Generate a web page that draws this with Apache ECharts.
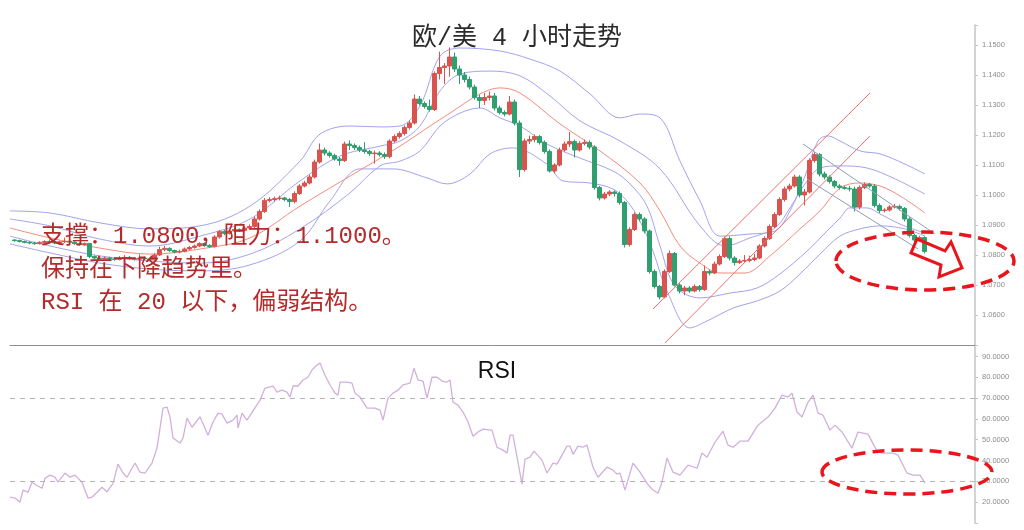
<!DOCTYPE html>
<html><head><meta charset="utf-8">
<script src="https://cdn.jsdelivr.net/npm/echarts@6/dist/echarts.min.js"></script>
<style>html,body{margin:0;padding:0;background:#fff}#c{width:1024px;height:530px}</style>
</head><body><div id="c"></div>
<script>
// ---- data: 4h candles [open, close, low, high] ----
const candles = [
[1.0850,1.0848,1.0844,1.0853],[1.0848,1.0845,1.0842,1.0851],[1.0845,1.0842,1.0839,1.0848],[1.0842,1.0840,1.0836,1.0846],
[1.0840,1.0838,1.0834,1.0844],[1.0838,1.0842,1.0835,1.0846],[1.0842,1.0845,1.0839,1.0849],[1.0845,1.0843,1.0839,1.0852],
[1.0843,1.0840,1.0836,1.0846],[1.0840,1.0844,1.0837,1.0848],[1.0844,1.0846,1.0840,1.0858],[1.0846,1.0843,1.0839,1.0849],
[1.0843,1.0838,1.0834,1.0846],[1.0838,1.0835,1.0831,1.0842],[1.0835,1.0838,1.0832,1.0842],[1.0838,1.0795,1.0790,1.0841],
[1.0795,1.0790,1.0786,1.0799],[1.0790,1.0788,1.0784,1.0794],[1.0788,1.0790,1.0785,1.0795],[1.0790,1.0787,1.0783,1.0794],
[1.0787,1.0785,1.0781,1.0792],[1.0785,1.0789,1.0782,1.0796],[1.0789,1.0792,1.0785,1.0800],[1.0792,1.0788,1.0784,1.0797],
[1.0788,1.0786,1.0782,1.0793],[1.0786,1.0790,1.0783,1.0802],[1.0790,1.0787,1.0783,1.0795],[1.0787,1.0784,1.0779,1.0791],
[1.0784,1.0800,1.0781,1.0806],[1.0800,1.0818,1.0797,1.0828],[1.0818,1.0822,1.0812,1.0830],[1.0822,1.0815,1.0810,1.0826],
[1.0815,1.0810,1.0805,1.0818],[1.0810,1.0812,1.0806,1.0818],[1.0812,1.0820,1.0809,1.0825],[1.0820,1.0825,1.0816,1.0830],
[1.0825,1.0830,1.0821,1.0835],[1.0830,1.0838,1.0826,1.0843],[1.0838,1.0832,1.0827,1.0842],[1.0832,1.0828,1.0823,1.0836],
[1.0828,1.0860,1.0825,1.0866],[1.0860,1.0878,1.0855,1.0884],[1.0878,1.0872,1.0866,1.0883],[1.0872,1.0880,1.0868,1.0886],
[1.0880,1.0885,1.0875,1.0892],[1.0885,1.0882,1.0877,1.0889],[1.0882,1.0890,1.0878,1.0896],[1.0890,1.0895,1.0884,1.0902],
[1.0895,1.0920,1.0890,1.0928],[1.0920,1.0945,1.0915,1.0952],[1.0945,1.0982,1.0940,1.0990],[1.0982,1.0985,1.0975,1.0993],
[1.0985,1.0988,1.0978,1.0995],[1.0988,1.0990,1.0982,1.0998],[1.0990,1.0985,1.0979,1.0994],[1.0985,1.0978,1.0960,1.0990],
[1.0978,1.1005,1.0972,1.1012],[1.1005,1.1030,1.1000,1.1036],[1.1030,1.1040,1.1025,1.1047],[1.1040,1.1060,1.1035,1.1068],
[1.1060,1.1110,1.1055,1.1118],[1.1110,1.1150,1.1105,1.1172],[1.1150,1.1140,1.1132,1.1158],[1.1140,1.1132,1.1125,1.1146],
[1.1132,1.1120,1.1114,1.1138],[1.1120,1.1115,1.1098,1.1126],[1.1115,1.1170,1.1110,1.1178],[1.1170,1.1165,1.1150,1.1182],
[1.1165,1.1158,1.1150,1.1172],[1.1158,1.1150,1.1143,1.1165],[1.1150,1.1145,1.1138,1.1176],[1.1145,1.1138,1.1130,1.1150],
[1.1138,1.1140,1.1105,1.1148],[1.1140,1.1135,1.1128,1.1146],[1.1135,1.1128,1.1120,1.1142],[1.1128,1.1180,1.1122,1.1186],
[1.1180,1.1195,1.1174,1.1202],[1.1195,1.1205,1.1188,1.1212],[1.1205,1.1225,1.1198,1.1232],[1.1225,1.1240,1.1218,1.1248],
[1.1240,1.1320,1.1235,1.1335],[1.1320,1.1305,1.1298,1.1330],[1.1305,1.1295,1.1288,1.1312],[1.1295,1.1285,1.1278,1.1318],
[1.1285,1.1405,1.1280,1.1412],[1.1405,1.1425,1.1385,1.1478],[1.1425,1.1430,1.1370,1.1440],[1.1430,1.1460,1.1395,1.1492],
[1.1460,1.1420,1.1410,1.1475],[1.1420,1.1400,1.1370,1.1432],[1.1400,1.1385,1.1375,1.1410],[1.1385,1.1360,1.1352,1.1395],
[1.1360,1.1325,1.1318,1.1368],[1.1325,1.1315,1.1290,1.1335],[1.1315,1.1325,1.1300,1.1340],[1.1325,1.1330,1.1315,1.1345],
[1.1330,1.1290,1.1282,1.1340],[1.1290,1.1275,1.1268,1.1298],[1.1275,1.1270,1.1262,1.1282],[1.1270,1.1310,1.1265,1.1330],
[1.1310,1.1240,1.1232,1.1318],[1.1240,1.1085,1.1060,1.1248],[1.1085,1.1180,1.1078,1.1188],[1.1180,1.1185,1.1170,1.1198],
[1.1185,1.1195,1.1176,1.1202],[1.1195,1.1175,1.1168,1.1200],[1.1175,1.1145,1.1138,1.1182],[1.1145,1.1080,1.1075,1.1152],
[1.1080,1.1100,1.1072,1.1106],[1.1100,1.1150,1.1095,1.1158],[1.1150,1.1170,1.1145,1.1178],[1.1170,1.1178,1.1160,1.1210],
[1.1178,1.1150,1.1125,1.1185],[1.1150,1.1172,1.1145,1.1180],[1.1172,1.1175,1.1165,1.1185],[1.1175,1.1160,1.1152,1.1182],
[1.1160,1.1025,1.1018,1.1166],[1.1025,1.0990,1.0982,1.1030],[1.0990,1.1003,1.0985,1.1010],[1.1003,1.1010,1.0996,1.1016],
[1.1010,1.1005,1.0995,1.1015],[1.1005,1.0975,1.0968,1.1012],[1.0975,1.0835,1.0825,1.0980],[1.0835,1.0885,1.0828,1.0892],
[1.0885,1.0935,1.0880,1.0942],[1.0935,1.0920,1.0912,1.0942],[1.0920,1.0880,1.0872,1.0926],[1.0880,1.0745,1.0738,1.0885],
[1.0745,1.0695,1.0688,1.0752],[1.0695,1.0660,1.0652,1.0700],[1.0660,1.0745,1.0655,1.0752],[1.0745,1.0805,1.0740,1.0815],
[1.0805,1.0700,1.0695,1.0810],[1.0700,1.0680,1.0672,1.0706],[1.0680,1.0690,1.0666,1.0697],[1.0690,1.0680,1.0674,1.0696],
[1.0680,1.0695,1.0676,1.0702],[1.0695,1.0685,1.0678,1.0700],[1.0685,1.0745,1.0680,1.0765],[1.0745,1.0740,1.0732,1.0752],
[1.0740,1.0770,1.0736,1.0778],[1.0770,1.0795,1.0765,1.0802],[1.0795,1.0855,1.0790,1.0862],[1.0855,1.0790,1.0782,1.0862],
[1.0790,1.0775,1.0765,1.0796],[1.0775,1.0780,1.0770,1.0786],[1.0780,1.0782,1.0774,1.0800],[1.0782,1.0785,1.0776,1.0798],
[1.0785,1.0790,1.0779,1.0804],[1.0790,1.0830,1.0786,1.0836],[1.0830,1.0855,1.0825,1.0862],[1.0855,1.0895,1.0850,1.0902],
[1.0895,1.0935,1.0890,1.0942],[1.0935,1.0985,1.0930,1.0992],[1.0985,1.1020,1.0978,1.1028],[1.1020,1.1030,1.1012,1.1038],
[1.1030,1.1060,1.1025,1.1068],[1.1060,1.1000,1.0992,1.1066],[1.1000,1.1010,1.0965,1.1020],[1.1010,1.1115,1.1005,1.1122],
[1.1115,1.1135,1.1108,1.1142],[1.1135,1.1070,1.1062,1.1140],[1.1070,1.1060,1.1052,1.1078],[1.1060,1.1045,1.1038,1.1066],
[1.1045,1.1030,1.1022,1.1050],[1.1030,1.1025,1.1018,1.1036],[1.1025,1.1022,1.1018,1.1032],[1.1022,1.1020,1.1012,1.1030],
[1.1020,1.0960,1.0945,1.1028],[1.0960,1.1025,1.0952,1.1032],[1.1025,1.1035,1.1020,1.1042],[1.1035,1.1030,1.1024,1.1040],
[1.1030,1.0965,1.0958,1.1036],[1.0965,1.0948,1.0940,1.0972],[1.0948,1.0950,1.0942,1.0956],[1.0950,1.0960,1.0945,1.0966],
[1.0960,1.0962,1.0955,1.0970],[1.0962,1.0955,1.0948,1.0968],[1.0955,1.0920,1.0912,1.0960],[1.0920,1.0865,1.0858,1.0926],
[1.0865,1.0850,1.0842,1.0870],[1.0850,1.0858,1.0845,1.0864],[1.0858,1.0812,1.0805,1.0862]
];
// ---- Bollinger bands: [candle index, price] ----
const bandMid = [[-0.9,1.0890],[7.1,1.0857],[17.1,1.0823],[27.1,1.0803],[37.1,1.0820],[47.1,1.0857],[57.1,1.0963],[67.1,1.1063],[77.1,1.1163],[83.1,1.1230],[87.1,1.1273],[93.1,1.1337],[97.1,1.1357],[101.1,1.1340],[109.1,1.1237],[117.1,1.1147],[125.1,1.1040],[129.1,1.0947],[133.1,1.0830],[137.1,1.0773],[141.1,1.0740],[146.1,1.0740],[151.1,1.0797],[157.1,1.0887],[161.1,1.0947],[165.1,1.1023],[169.1,1.1040],[173.1,1.1030],[177.1,1.0997],[182.1,1.0940]];
const bandUpOuter = [[-0.9,1.0947],[7.1,1.0940],[17.1,1.0907],[27.1,1.0887],[37.1,1.0897],[47.1,1.0963],[57.1,1.1113],[61.1,1.1203],[67.1,1.1230],[73.1,1.1227],[77.1,1.1230],[81.1,1.1297],[85.1,1.1463],[89.1,1.1490],[97.1,1.1480],[103.1,1.1453],[109.1,1.1413],[115.1,1.1337],[121.1,1.1257],[125.1,1.1270],[129.1,1.1257],[133.1,1.1113],[137.1,1.0980],[141.1,1.0863],[147.1,1.0870],[152.1,1.0880],[155.1,1.0947],[158.1,1.1063],[160.7,1.1180],[162.7,1.1197],[165.1,1.1180],[169.1,1.1147],[173.1,1.1137],[178.1,1.1103],[182.1,1.1070]];
const bandUpInner = [[-0.9,1.0920],[7.1,1.0897],[17.1,1.0853],[27.1,1.0830],[37.1,1.0863],[47.1,1.0920],[57.1,1.1047],[65.1,1.1130],[73.1,1.1163],[77.1,1.1180],[81.1,1.1230],[85.1,1.1347],[89.1,1.1403],[95.1,1.1413],[101.1,1.1397],[107.1,1.1330],[113.1,1.1247],[121.1,1.1180],[129.1,1.1087],[137.1,1.0897],[142.1,1.0830],[147.1,1.0857],[152.1,1.0890],[155.1,1.0957],[158.1,1.1037],[161.1,1.1090],[165.1,1.1097],[170.5,1.1090],[175.7,1.1057],[182.1,1.1003]];
const bandLowInner = [[-0.9,1.0863],[7.1,1.0830],[17.1,1.0797],[27.1,1.0780],[37.1,1.0773],[47.1,1.0803],[57.1,1.0887],[67.1,1.1007],[73.1,1.1097],[77.1,1.1113],[81.1,1.1147],[85.1,1.1230],[89.1,1.1273],[93.1,1.1290],[97.1,1.1257],[101.1,1.1230],[106.5,1.1170],[113.1,1.1123],[119.7,1.1080],[123.1,1.1037],[126.5,1.0963],[129.1,1.0830],[132.1,1.0697],[137.1,1.0657],[143.1,1.0673],[148.5,1.0690],[153.1,1.0737],[158.5,1.0813],[162.5,1.0880],[165.1,1.0923],[167.1,1.0957],[170.5,1.0957],[173.1,1.0937],[177.1,1.0903],[182.1,1.0873]];
const bandLowOuter = [[-0.9,1.0837],[7.1,1.0807],[17.1,1.0773],[27.1,1.0753],[37.1,1.0747],[47.1,1.0767],[57.1,1.0847],[63.1,1.0980],[69.1,1.1087],[75.7,1.1087],[82.5,1.1057],[86.5,1.1037],[91.1,1.1070],[95.1,1.1137],[99.7,1.1157],[106.5,1.1103],[109.7,1.1047],[115.1,1.1040],[119.7,1.1020],[122.5,1.0980],[125.1,1.0913],[127.7,1.0813],[130.5,1.0680],[135.1,1.0557],[138.5,1.0580],[143.7,1.0623],[148.5,1.0647],[153.1,1.0680],[157.1,1.0737],[161.1,1.0803],[165.1,1.0863],[169.1,1.0887],[173.1,1.0897],[178.1,1.0887],[182.1,1.0863]];
// ---- trend lines [index, price] ----
const trendUpA = [[127.7,1.0620],[171.1,1.1340]];
const trendUpB = [[130.1,1.0507],[171.1,1.1197]];
const chanDownTop = [[157.7,1.1170],[184.1,1.0870]];
const chanDownBot = [[158.5,1.1053],[180.7,1.0820]];
// ---- RSI [index, value] ----
const rsiPoints = [[-0.9,22.4],[0.1,22],[1.1,20],[1.7,25.8],[2.7,24.8],[3.5,29.6],[4.5,28],[5.5,26.7],[6.1,31.5],[7.1,33],[8.1,32],[8.7,29.6],[10.1,34],[11.1,32],[12.1,33],[13.5,29.6],[14.7,22],[15.5,22.4],[17.5,27.2],[18.5,25],[19.7,29],[20.7,38.3],[21.7,34],[22.5,32],[24.1,38.8],[25.1,34.4],[26.1,34],[27.5,38.8],[28.5,46],[29.7,65.2],[30.5,65.7],[31.1,61],[31.7,50.8],[33.1,48.4],[33.7,50.8],[34.5,60.4],[35.5,56],[37.1,61],[38.7,52.2],[39.7,58.5],[40.7,62.8],[41.5,62.3],[42.5,58],[43.7,59.4],[44.5,61.8],[44.7,55.6],[45.5,62.8],[46.5,59.4],[49.1,69],[50.1,74.8],[51.7,75.8],[52.5,72.9],[53.5,73.8],[54.5,72.9],[55.1,70.5],[55.7,75.8],[56.7,75.8],[57.7,78.7],[58.7,80],[59.5,83.5],[60.5,85.9],[61.1,86.8],[62.1,81],[63.1,76.3],[64.1,72.4],[64.7,71.4],[65.1,77.7],[66.5,77.7],[67.5,77.2],[68.1,72.4],[69.1,70.5],[70.5,65.2],[72.1,65.2],[73.1,64.2],[73.7,59.4],[74.7,70],[75.7,72.4],[76.7,73.8],[77.7,76.3],[79.1,77.2],[79.9,84.4],[80.7,78.7],[81.7,78.2],[82.5,70],[83.5,80],[84.5,80],[85.5,78.2],[86.5,77.7],[87.1,78.7],[87.7,68],[88.7,66.6],[89.7,63.3],[90.7,58.5],[91.7,51.7],[92.7,53.7],[93.7,55.1],[95.5,54.6],[96.5,46.4],[97.7,45],[98.5,43.6],[99.1,52.2],[99.7,52.2],[101.5,28.7],[102.1,40.7],[103.1,41.6],[103.9,44.5],[105.5,40.2],[106.5,34],[107.7,38.8],[108.5,38.3],[109.5,42.6],[110.5,46.9],[111.1,46.9],[111.7,43],[112.7,46.9],[113.7,46.4],[114.5,47.4],[115.7,36.8],[116.7,32],[118.5,36.8],[119.7,35.4],[120.5,33.5],[121.1,34],[122.1,25.8],[123.7,38.8],[125.1,34.4],[126.5,29],[127.5,26.2],[128.7,24.3],[129.5,29.6],[130.5,41.2],[131.7,34.4],[133.1,33],[134.7,37.8],[136.5,36.3],[137.5,43.6],[138.5,41.6],[140.1,48.8],[141.7,54.1],[142.7,47.4],[143.7,46.4],[145.1,49.3],[146.7,49.3],[148.7,57],[150.7,60.9],[152.1,65.2],[153.5,71.4],[154.7,70.5],[155.5,72.4],[156.5,63.3],[157.5,60.9],[158.7,68],[159.7,71.4],[160.7,62.8],[161.7,61.8],[163.1,54.6],[164.1,57],[165.5,53.7],[167.5,46],[168.7,53.7],[170.7,52.7],[172.5,44.5],[173.5,43.6],[175.7,43.6],[176.7,42.6],[178.5,34],[179.7,33],[181.1,33],[182.1,29.2]];
// ---- axis ticks ----
const priceTicks = ['1.0600','1.0700','1.0800','1.0900','1.1000','1.1100','1.1200','1.1300','1.1400','1.1500'];
const rsiTicks = ['20.0000','30.0000','40.0000','50.0000','60.0000','70.0000','80.0000','90.0000'];
const rsiLevels = [70, 30];

const chart = echarts.init(document.getElementById('c'), null, {renderer:'canvas'});
const X0 = -0.9, X1 = 192.1;
const bandColor = '#a3a3ee';
const lineS = (data, color, w, z, smooth) => ({type:'line', data, xAxisIndex:0, yAxisIndex:0, showSymbol:false, symbol:'none', smooth: smooth, silent:true, z, lineStyle:{color, width:w}});
const axisLab = (ticks) => ({show:true, color:'#8c8c8c', fontSize:7.5, margin:7, fontFamily:'Liberation Sans, Arial, sans-serif',
   formatter: (v) => { const s = v.toFixed(4); return ticks.includes(s) ? s : ''; }});

// arrow annotation outline
const arrowPts = [[917,239],[945,251],[951,242],[962,268],[939,277],[941,265],[911,253]];

const annoFont = "'Liberation Mono','Noto Sans CJK SC',monospace";
chart.setOption({
  animation:false,
  backgroundColor:'#fff',
  grid:[{left:10, right:49, top:25, height:320}, {left:10, right:49, top:345, height:178}],
  xAxis:[
    {type:'value', gridIndex:0, min:X0, max:X1, axisLine:{show:true, onZero:false, lineStyle:{color:'#8f8f8f', width:1}}, axisTick:{show:false}, axisLabel:{show:false}, splitLine:{show:false}},
    {type:'value', gridIndex:1, min:X0, max:X1, axisLine:{show:false, onZero:false}, axisTick:{show:false}, axisLabel:{show:false}, splitLine:{show:false}}
  ],
  yAxis:[
    {type:'value', gridIndex:0, position:'right', min:1.05, max:1.15667, interval:0.01,
     axisLine:{show:true, onZero:false, lineStyle:{color:'#c4c4c4', width:1.5}}, axisTick:{show:true, length:3, lineStyle:{color:'#c4c4c4'}},
     axisLabel:axisLab(priceTicks), splitLine:{show:false}},
    {type:'value', gridIndex:1, position:'right', min:10, max:95.5, interval:10,
     axisLine:{show:true, onZero:false, lineStyle:{color:'#c4c4c4', width:1.5}}, axisTick:{show:true, length:3, lineStyle:{color:'#c4c4c4'}},
     axisLabel:axisLab(rsiTicks), splitLine:{show:false}}
  ],
  series:[
    lineS(bandUpOuter, bandColor, 1, 1, 0.35),
    lineS(bandUpInner, bandColor, 1, 1, 0.35),
    lineS(bandLowInner, bandColor, 1, 1, 0.35),
    lineS(bandLowOuter, bandColor, 1, 1, 0.35),
    lineS(bandMid, '#f28c7c', 1, 1, 0.35),
    {type:'candlestick', xAxisIndex:0, yAxisIndex:0, z:3, barWidth:3.6, silent:true,
     data: candles.map((c,i)=>[i, c[0], c[1], c[2], c[3]]),
     itemStyle:{color:'#d9534f', color0:'#2f9f6f', borderColor:'#d9534f', borderColor0:'#2f9f6f', borderWidth:1}},
    lineS(trendUpA, '#f07070', 1, 4, false),
    lineS(trendUpB, '#f07070', 1, 4, false),
    lineS(chanDownTop, '#8aa0ba', 1, 4, false),
    lineS(chanDownBot, '#8aa0ba', 1, 4, false),
    {type:'line', xAxisIndex:1, yAxisIndex:1, data:rsiPoints, showSymbol:false, symbol:'none', silent:true, z:3,
     lineStyle:{color:'#d1b0dc', width:1.3},
     markLine:{silent:true, symbol:'none', label:{show:false}, lineStyle:{color:'#b5b5b5', type:[5,5], width:1},
       data: rsiLevels.map(v=>({yAxis:v}))}}
  ],
  graphic:[
    {type:'text', x:517, y:38, style:{text:'欧/美 4 小时走势', fill:'#2b2b2b', font:"25px " + annoFont, align:'center', verticalAlign:'middle'}},
    {type:'text', x:497, y:372, style:{text:'RSI', fill:'#111', font:"23px 'Liberation Sans', Arial, sans-serif", align:'center', verticalAlign:'middle'}},
    {type:'text', x:41, y:237, z:20, style:{text:'支撑：1.0800，阻力：1.1000。', fill:'#b52a2a', font:"24px " + annoFont, verticalAlign:'middle'}},
    {type:'text', x:41, y:270, z:20, style:{text:'保持在下降趋势里。', fill:'#b52a2a', font:"24px " + annoFont, verticalAlign:'middle'}},
    {type:'text', x:41, y:303, z:20, style:{text:'RSI 在 20 以下，偏弱结构。', fill:'#b52a2a', font:"24px " + annoFont, verticalAlign:'middle'}},
    {type:'ellipse', z:30, shape:{cx:925, cy:261, rx:89, ry:29}, style:{fill:'none', stroke:'#e8161c', lineWidth:3.5, lineDash:[12,7]}},
    {type:'ellipse', z:30, shape:{cx:907, cy:472, rx:85, ry:22}, style:{fill:'none', stroke:'#e8161c', lineWidth:3.5, lineDash:[12,7]}},
    {type:'polygon', z:31, shape:{points:arrowPts}, style:{fill:'none', stroke:'#e8161c', lineWidth:3}}
  ]
});
</script></body></html>
